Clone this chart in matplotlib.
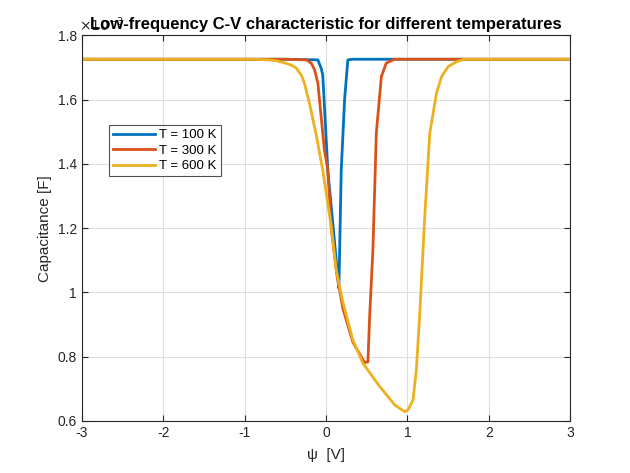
import numpy as np
import matplotlib.pyplot as plt
from matplotlib.ticker import FuncFormatter

# Surface potential [V] and capacitance [x1e-3 F]
psi_100 = [-3.0, -0.5, -0.10, -0.06, -0.04, 0.022, 0.133, 0.158, 0.187, 0.228, 0.268, 0.32, 3.0]
cap_100 = [1.726, 1.726, 1.724, 1.698, 1.677, 1.381, 1.08, 1.013, 1.381, 1.60, 1.724, 1.726, 1.726]

psi_300 = [-3.0, -0.5, -0.24, -0.18, -0.14, -0.10, -0.06, -0.02, 0.022, 0.064, 0.13, 0.207,
           0.33, 0.474, 0.515, 0.536, 0.576, 0.618, 0.68, 0.74, 0.844, 3.0]
cap_300 = [1.726, 1.726, 1.724, 1.713, 1.693, 1.651, 1.547, 1.444, 1.381, 1.20, 1.06, 0.95,
           0.845, 0.782, 0.784, 0.925, 1.132, 1.496, 1.672, 1.714, 1.726, 1.726]

psi_600 = [-3.0, -0.9, -0.7, -0.6, -0.53, -0.45, -0.37, -0.3, -0.265, -0.2, -0.12, -0.04,
           0.064, 0.125, 0.207, 0.33, 0.453, 0.66, 0.844, 0.967, 1.007, 1.069, 1.11, 1.15,
           1.213, 1.275, 1.357, 1.42, 1.5, 1.6, 1.7, 3.0]
cap_600 = [1.726, 1.726, 1.724, 1.721, 1.716, 1.710, 1.700, 1.675, 1.651, 1.585, 1.490, 1.381,
           1.205, 1.07, 0.97, 0.852, 0.78, 0.707, 0.65, 0.629, 0.634, 0.665, 0.759, 0.925,
           1.236, 1.496, 1.62, 1.672, 1.703, 1.718, 1.726, 1.726]

labels = ['T = 100 K', 'T = 300 K', 'T = 600 K']
colors = ['#0072BD', '#D95319', '#EDB120']

plt.rcParams['font.family'] = ['Liberation Sans', 'DejaVu Sans']
plt.rcParams['axes.unicode_minus'] = False

fig = plt.figure(figsize=(6.3, 4.73), dpi=100)
ax = fig.add_axes([0.13, 0.11, 0.775, 0.815])

for x, y, lab, col in zip([psi_100, psi_300, psi_600], [cap_100, cap_300, cap_600], labels, colors):
    ax.plot(x, y, color=col, linewidth=2, label=lab)

ax.set_xlim(-3, 3)
ax.set_ylim(0.6, 1.8)
ax.set_xticks(np.arange(-3, 4, 1))
ax.set_yticks(np.arange(0.6, 1.81, 0.2))
ax.yaxis.set_major_formatter(FuncFormatter(lambda v, p: f'{v:g}'))
ax.tick_params(direction='in', top=True, right=True, length=4, labelsize=10,
               colors='#262626')
ax.grid(True, color='#dfdfdf', linewidth=0.8)
ax.set_axisbelow(True)
for s in ax.spines.values():
    s.set_color('#262626')
    s.set_linewidth(0.8)

ax.set_xlabel('ψ  [V]', fontsize=11, color='#262626', labelpad=6)
ax.set_ylabel('Capacitance [F]', fontsize=11, color='#262626')
ax.text(-0.005, 1.005, r'$\times10^{-3}$', transform=ax.transAxes, fontsize=10,
        color='#262626', ha='left', va='bottom')
ax.set_title('Low-frequency C-V characteristic for different temperatures',
             fontsize=12, fontweight='bold', pad=5)

leg = ax.legend(loc='upper left', bbox_to_anchor=(0.042, 0.785), fontsize=9.5,
                frameon=True, fancybox=False, edgecolor='#262626',
                borderpad=0.3, labelspacing=0.25, handlelength=3.2, handletextpad=0.3)
leg.get_frame().set_linewidth(0.8)

fig.savefig('out.png', dpi=100)
